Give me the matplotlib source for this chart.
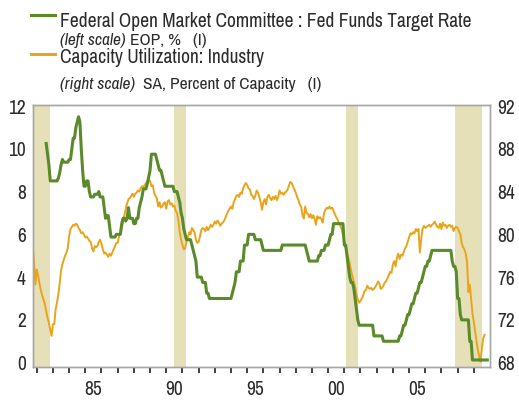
import matplotlib
matplotlib.use("Agg")
import matplotlib.pyplot as plt
import numpy as np
from matplotlib import font_manager

# ---------------- data ----------------
# Capacity Utilization: Industry (monthly, starting Oct 1981), % of capacity
cu_start = (1981, 10)
cu_values = [
    78.9, 77.4, 75.3,                                                    # 1981 Oct-Dec
    76.7, 76.2, 75.4, 74.8, 74.3, 73.9, 73.5, 72.8, 72.2, 71.7, 71.1, 70.5,  # 1982
    71.6, 71.6, 73.0, 73.6, 74.4, 75.4, 76.6, 77.2, 77.6, 78.0, 78.3, 78.7,  # 1983
    79.8, 80.5, 80.7, 80.9, 80.8, 81.0, 80.9, 80.6, 80.4, 80.1, 80.2, 80.0,  # 1984
    79.7, 79.8, 79.6, 79.4, 79.3, 78.7, 78.4, 78.9, 78.8, 78.9, 79.3, 79.5,  # 1985
    79.1, 78.6, 78.2, 78.3, 78.1, 77.9, 78.2, 78.0, 78.3, 78.6, 78.9, 79.2,  # 1986
    79.2, 79.8, 80.2, 80.6, 81.2, 81.8, 82.4, 82.9, 83.3, 83.4, 83.6, 83.8,  # 1987
    83.5, 83.8, 83.9, 84.1, 84.0, 84.3, 84.5, 84.4, 84.6, 84.8, 85.0, 85.1,  # 1988
    85.0, 84.5, 84.6, 83.9, 83.6, 83.4, 82.6, 83.0, 82.5, 82.6, 82.9, 83.0,  # 1989
    82.4, 83.1, 83.2, 82.8, 82.9, 82.6, 82.7, 82.2, 82.0, 81.3, 80.2, 79.5,  # 1990
    79.0, 78.6, 78.7, 79.3, 79.7, 80.2, 80.0, 80.6, 80.4, 80.2, 79.5, 79.2,  # 1991
    79.3, 79.8, 80.4, 80.6, 80.5, 80.3, 80.7, 80.4, 80.6, 80.9, 80.7, 80.9,  # 1992
    81.2, 81.0, 81.3, 81.1, 80.8, 81.0, 81.1, 81.3, 81.6, 81.9, 82.2, 82.4,  # 1993
    82.6, 82.4, 83.0, 83.3, 83.6, 83.7, 83.5, 83.9, 83.8, 84.3, 84.6, 84.8,  # 1994
    84.6, 84.3, 84.2, 83.7, 83.6, 83.3, 83.6, 84.1, 83.9, 83.5, 83.0, 82.3,  # 1995
    83.0, 83.3, 82.8, 83.5, 83.7, 83.4, 83.2, 83.5, 83.3, 83.6, 83.2, 83.5,  # 1996
    84.1, 83.8, 83.9, 83.7, 83.9, 84.0, 84.2, 84.6, 84.9, 84.8, 84.5, 84.2,  # 1997
    83.9, 83.5, 83.2, 82.8, 82.6, 81.8, 81.5, 82.6, 82.0, 81.9, 81.6, 81.9,  # 1998
    81.5, 81.8, 81.4, 80.9, 81.7, 81.5, 81.6, 81.4, 81.1, 82.0, 82.3, 82.5,  # 1999
    82.4, 82.6, 82.4, 82.5, 82.2, 81.9, 81.6, 81.4, 81.0, 80.8, 80.5, 79.9,  # 2000
    79.4, 78.8, 78.3, 77.8, 77.3, 76.6, 76.1, 75.6, 75.1, 74.4, 73.9, 73.6,  # 2001
    73.8, 74.0, 74.3, 74.7, 74.8, 75.2, 75.0, 74.9, 75.0, 74.8, 74.9, 75.1,  # 2002
    75.3, 75.6, 75.4, 74.9, 75.0, 75.2, 75.5, 75.6, 75.9, 76.2, 76.5, 76.4,  # 2003
    77.2, 77.5, 77.0, 77.8, 78.2, 77.7, 78.1, 78.0, 78.3, 78.7, 78.9, 79.3,  # 2004
    79.7, 80.1, 80.0, 80.2, 80.1, 80.5, 80.3, 80.5, 78.3, 79.6, 80.5, 80.8,  # 2005
    80.6, 80.7, 80.8, 80.9, 80.7, 80.9, 81.0, 81.2, 80.9, 80.7, 80.6, 81.0,  # 2006
    80.5, 81.1, 80.8, 80.9, 80.6, 80.8, 80.9, 80.7, 80.8, 80.3, 80.6, 80.7,  # 2007
    80.6, 80.3, 80.0, 79.2, 78.8, 78.6, 78.2, 77.4, 74.6, 75.3, 74.0, 72.6,  # 2008
    71.8, 70.9, 70.0, 69.2, 68.6, 68.1, 69.4, 70.3, 70.6,                  # 2009 Jan-Sep
]

# Fed Funds Target Rate, end of period (monthly, starting Aug 1982), %
ff_start = (1982, 8)
ff_values = [
    10.25, 9.75, 9.25, 8.5, 8.5,                                               # 1982 Aug-Dec
    8.5, 8.5, 8.5, 8.5, 8.625, 8.875, 9.25, 9.5, 9.375, 9.375, 9.375, 9.375,     # 1983
    9.5, 9.5, 10.0, 10.5, 10.5, 11.0, 11.25, 11.5, 11.25, 10.0, 9.0, 8.25,       # 1984
    8.25, 8.5, 8.5, 8.0, 7.75, 7.75, 7.75, 7.875, 7.875, 7.875, 8.0, 7.75,       # 1985
    7.75, 7.75, 7.25, 6.75, 6.875, 6.875, 6.375, 5.875, 5.875, 5.875, 5.875, 6.0,  # 1986
    6.0, 6.0, 6.0, 6.5, 6.75, 6.75, 6.625, 6.75, 7.25, 6.75, 6.75, 6.75,         # 1987
    6.5, 6.5, 6.75, 6.75, 7.25, 7.5, 7.75, 8.125, 8.125, 8.125, 8.375, 8.6875,   # 1988
    9.0, 9.75, 9.75, 9.75, 9.75, 9.5, 9.25, 9.0, 9.0, 8.75, 8.5, 8.25,           # 1989
    8.25, 8.25, 8.25, 8.25, 8.25, 8.25, 8.0, 8.0, 8.0, 7.75, 7.5, 7.0,           # 1990
    6.75, 6.25, 6.0, 5.75, 5.75, 5.75, 5.75, 5.5, 5.25, 5.0, 4.75, 4.0,          # 1991
    4.0, 4.0, 4.0, 3.75, 3.75, 3.75, 3.25, 3.25, 3.0, 3.0, 3.0, 3.0,             # 1992
    3.0, 3.0, 3.0, 3.0, 3.0, 3.0, 3.0, 3.0, 3.0, 3.0, 3.0, 3.0,                  # 1993
    3.0, 3.25, 3.5, 3.75, 4.25, 4.25, 4.25, 4.75, 4.75, 4.75, 5.5, 5.5,          # 1994
    5.5, 6.0, 6.0, 6.0, 6.0, 6.0, 5.75, 5.75, 5.75, 5.75, 5.75, 5.5,             # 1995
    5.25, 5.25, 5.25, 5.25, 5.25, 5.25, 5.25, 5.25, 5.25, 5.25, 5.25, 5.25,      # 1996
    5.25, 5.25, 5.5, 5.5, 5.5, 5.5, 5.5, 5.5, 5.5, 5.5, 5.5, 5.5,                # 1997
    5.5, 5.5, 5.5, 5.5, 5.5, 5.5, 5.5, 5.5, 5.25, 5.0, 4.75, 4.75,               # 1998
    4.75, 4.75, 4.75, 4.75, 4.75, 5.0, 5.0, 5.25, 5.25, 5.25, 5.5, 5.5,          # 1999
    5.5, 5.75, 6.0, 6.0, 6.5, 6.5, 6.5, 6.5, 6.5, 6.5, 6.5, 6.5,                 # 2000
    5.5, 5.5, 5.0, 4.5, 4.0, 3.75, 3.75, 3.5, 3.0, 2.5, 2.0, 1.75,               # 2001
    1.75, 1.75, 1.75, 1.75, 1.75, 1.75, 1.75, 1.75, 1.75, 1.75, 1.25, 1.25,      # 2002
    1.25, 1.25, 1.25, 1.25, 1.25, 1.0, 1.0, 1.0, 1.0, 1.0, 1.0, 1.0,             # 2003
    1.0, 1.0, 1.0, 1.0, 1.0, 1.25, 1.25, 1.5, 1.75, 1.75, 2.0, 2.25,             # 2004
    2.25, 2.5, 2.75, 2.75, 3.0, 3.25, 3.25, 3.5, 3.75, 3.75, 4.0, 4.25,          # 2005
    4.5, 4.5, 4.75, 4.75, 5.0, 5.25, 5.25, 5.25, 5.25, 5.25, 5.25, 5.25,         # 2006
    5.25, 5.25, 5.25, 5.25, 5.25, 5.25, 5.25, 5.25, 4.75, 4.5, 4.5, 4.25,        # 2007
    3.0, 3.0, 2.25, 2.0, 2.0, 2.0, 2.0, 2.0, 2.0, 1.0, 1.0, 0.125,               # 2008
    0.125, 0.125, 0.125, 0.125, 0.125, 0.125, 0.125, 0.125, 0.125, 0.125, 0.125,  # 2009 Jan-Nov
]

# recession periods (decimal years)
recessions = [(1981.5, 1982.83), (1990.48, 1991.2), (2001.12, 2001.84), (2007.86, 2009.5)]

xtick_years = [1985, 1990, 1995, 2000, 2005]
xtick_labels = ["85", "90", "95", "00", "05"]
left_ticks = [0, 2, 4, 6, 8, 10, 12]
right_ticks = [68, 72, 76, 80, 84, 88, 92]

# ---------------- styling ----------------
avail = {f.name for f in font_manager.fontManager.ttflist}
FONT = "Liberation Sans"
for cand in ["Archivo Narrow", "Roboto Condensed", "Liberation Sans Narrow", "Barlow Semi Condensed"]:
    if cand in avail:
        FONT = cand
        break
plt.rcParams["font.family"] = [FONT, "DejaVu Sans"]

GREEN = "#5b8a2a"
ORANGE = "#e9a41c"
SHADE = "#e6e0b8"
SPINE = "#a6a6a6"
TXT = "#2b2b2b"


def month_axis(start, n):
    y, m = start
    return np.array([y + (m - 1 + i) / 12.0 for i in range(n)])


cu_x = month_axis(cu_start, len(cu_values))
ff_x = month_axis(ff_start, len(ff_values))

fig = plt.figure(figsize=(5.19, 4.0), dpi=100)
ax = fig.add_axes([32.7 / 519, 1 - 366.7 / 400, (490 - 32.7) / 519, (366.7 - 105) / 400])
ax2 = ax.twinx()
# left axes (green) drawn above right axes (orange)
ax.set_zorder(ax2.get_zorder() + 1)
ax.patch.set_visible(False)

ax.set_xlim(1981.75, 2010.0)
ax.set_ylim(-0.19, 12.05)
ax2.set_ylim(67.62, 92.1)

for a, b in recessions:
    ax2.axvspan(a, b, color=SHADE, lw=0, zorder=0)

ax2.plot(cu_x, cu_values, color=ORANGE, lw=1.4, zorder=2, solid_joinstyle="round")
ax.plot(ff_x, ff_values, color=GREEN, lw=2.2, zorder=3, solid_joinstyle="round")

for a in (ax, ax2):
    for s in a.spines.values():
        s.set_color(SPINE)
        s.set_linewidth(1.0)

# x ticks: marks at each year, labels mid-year
ax.set_xticks(np.arange(1982, 2010))
ax.set_xticklabels([])
ax.set_xticks([y + 0.5 for y in xtick_years], minor=True)
ax.set_xticklabels(xtick_labels, minor=True)
ax.tick_params(axis="x", which="major", direction="out", length=4.5, width=1.2, color="#222222")
ax.tick_params(axis="x", which="minor", length=0, pad=9.5, labelsize=14, labelcolor=TXT)

ax.set_yticks(left_ticks)
ax.set_yticklabels([str(t) for t in left_ticks])
ax.tick_params(axis="y", length=0, pad=5, labelsize=14, labelcolor=TXT)
ax2.set_yticks(right_ticks)
ax2.set_yticklabels([str(t) for t in right_ticks])
ax2.tick_params(axis="y", length=0, pad=5, labelsize=14, labelcolor=TXT)

# ---------------- legend header ----------------
def fx(px):
    return px / 519


def fy(py):
    return 1 - py / 400


fig.add_artist(plt.Line2D([fx(31), fx(55)], [fy(15), fy(15)], color=GREEN, lw=2.2))
fig.add_artist(plt.Line2D([fx(31), fx(55)], [fy(53.5), fy(53.5)], color=ORANGE, lw=2.2))

fig.text(fx(60), fy(26.7), "Federal Open Market Committee : Fed Funds Target Rate",
         fontsize=14, color=TXT, va="baseline", ha="left")
fig.text(fx(60), fy(63.3), "Capacity Utilization: Industry",
         fontsize=14, color=TXT, va="baseline", ha="left")

fig.canvas.draw()
renderer = fig.canvas.get_renderer()


def two_part(y_px, italic, rest, size=12.5):
    t1 = fig.text(fx(60), fy(y_px), italic, fontsize=size, style="italic",
                  color=TXT, va="baseline", ha="left")
    bb = t1.get_window_extent(renderer=renderer)
    fig.text(bb.x1 / fig.bbox.width, fy(y_px), rest, fontsize=size,
             color=TXT, va="baseline", ha="left")


two_part(44.5, "(left scale)", " EOP, %   (I)")
two_part(89.0, "(right scale)", "  SA, Percent of Capacity   (I)")

fig.savefig("out.png", dpi=100)
